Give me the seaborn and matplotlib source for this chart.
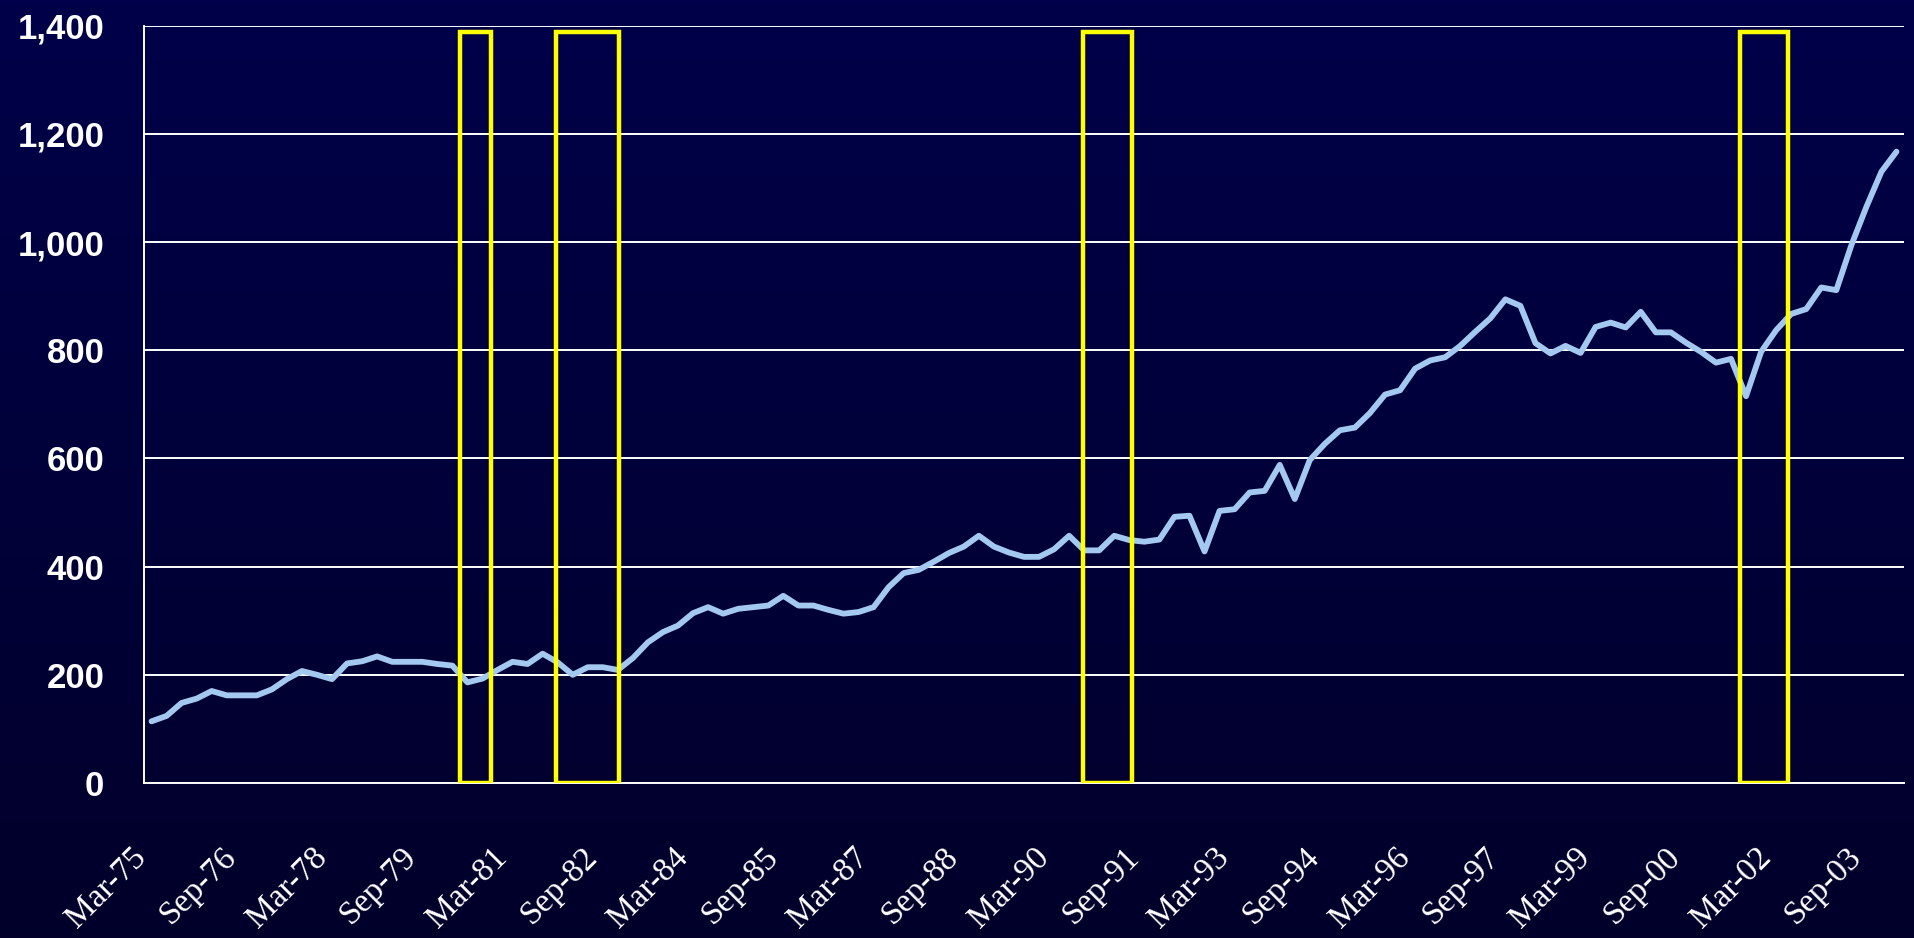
import numpy as np
import pandas as pd
import matplotlib
matplotlib.use("Agg")
import matplotlib.pyplot as plt
import matplotlib.transforms as mtransforms
from matplotlib.patches import Rectangle
from matplotlib.ticker import FuncFormatter
import seaborn as sns

# ---------------- data ----------------
quarters = pd.date_range("1975-03-31", periods=117, freq="QE").strftime("%b-%y").tolist()

values = [
    114, 124, 148, 156, 170, 162, 162, 162, 173, 192,
    207, 200, 192, 221, 225, 234, 224, 224, 224, 220,
    217, 186, 193, 209, 224, 220, 239, 223, 200, 214,
    214, 209, 231, 260, 279, 291, 314, 325, 313, 322,
    325, 328, 346, 328, 328, 320, 313, 316, 325, 362,
    388, 394, 409, 425, 437, 457, 437, 426, 418, 418,
    432, 457, 430, 430, 457, 449, 446, 450, 492, 494,
    428, 503, 506, 537, 540, 588, 525, 597, 627, 652,
    657, 684, 718, 726, 766, 781, 787, 808, 834, 859,
    894, 882, 813, 794, 808, 795, 843, 851, 842, 871,
    833, 833, 814, 797, 777, 784, 715, 797, 837, 867,
    876, 916, 911, 994, 1065, 1130, 1167,
]

tick_labels = ["Mar-75", "Sep-76", "Mar-78", "Sep-79", "Mar-81", "Sep-82", "Mar-84",
               "Sep-85", "Mar-87", "Sep-88", "Mar-90", "Sep-91", "Mar-93", "Sep-94",
               "Mar-96", "Sep-97", "Mar-99", "Sep-00", "Mar-02", "Sep-03"]

# recession periods, in quarter-index units
recession_start = [20.5, 26.9, 61.95, 105.6]
recession_end = [22.6, 31.1, 65.2, 108.8]
recession_top = 1388

y_ticks = [0, 200, 400, 600, 800, 1000, 1200, 1400]

df = pd.DataFrame({"q": np.arange(len(values)), "label": quarters, "value": values})

# ---------------- style ----------------
sns.set_theme(style="white")
plt.rcParams["font.family"] = ["Liberation Sans", "DejaVu Sans"]

W, H = 1915, 938
fig = plt.figure(figsize=(W / 100, H / 100), dpi=100)

# gradient background
bg = fig.add_axes([0, 0, 1, 1], zorder=-10)
top_c = np.array([0, 0, 74]) / 255
bot_c = np.array([2, 0, 42]) / 255
t = np.linspace(0, 1, 256)[:, None]
grad = top_c[None, :] * (1 - t) + bot_c[None, :] * t
img = np.repeat(grad[:, None, :], 4, axis=1)
bg.imshow(img, aspect="auto", extent=[0, 1, 0, 1], origin="upper")
bg.set_axis_off()

left, right = 144 / W, 1904 / W
bottom, top = 1 - 783 / H, 1 - 25.6 / H
ax = fig.add_axes([left, bottom, right - left, top - bottom])
ax.set_facecolor("none")

sns.lineplot(data=df, x="q", y="value", ax=ax, color="#A3C9F0", linewidth=4.2,
             zorder=3, legend=False)

for s, e in zip(recession_start, recession_end):
    ax.add_patch(Rectangle((s, 0), e - s, recession_top, fill=False,
                           edgecolor="#FFFF00", linewidth=3.2, zorder=4,
                           joinstyle="miter"))

n = len(values)
ax.set_xlim(-0.5, n - 0.5)
ax.set_ylim(0, 1400)

# y axis
ax.set_yticks(y_ticks)
ax.yaxis.set_major_formatter(FuncFormatter(lambda v, p: f"{int(v):,}"))
ax.grid(axis="y", color="white", linewidth=1.4, zorder=1)
ax.grid(axis="x", visible=False)
ax.set_axisbelow(True)
ax.tick_params(axis="y", which="major", direction="out", length=8.6, width=1.2,
               color="white", labelcolor="white", labelsize=25, pad=20)
for lbl in ax.get_yticklabels():
    lbl.set_fontweight("bold")

# x axis: minor ticks at category boundaries, labels every 6 quarters
ax.set_xticks(np.arange(-0.5, n, 1.0), minor=True)
label_pos = [quarters.index(l) for l in tick_labels]
ax.set_xticks(label_pos)
ax.set_xticklabels(tick_labels)
ax.tick_params(axis="x", which="minor", direction="out", length=8, width=1.2,
               color="white")
ax.tick_params(axis="x", which="major", length=0, pad=50, labelcolor="white",
               labelsize=24)
shift = mtransforms.ScaledTranslation(-10 / 100, 0, fig.dpi_scale_trans)
for lbl in ax.get_xticklabels():
    lbl.set_family(["Liberation Serif", "DejaVu Serif"])
    lbl.set_rotation(45)
    lbl.set_ha("right")
    lbl.set_va("center")
    lbl.set_rotation_mode("anchor")
    lbl.set_transform(lbl.get_transform() + shift)

ax.set_xlabel("")
ax.set_ylabel("")
for sp in ["top", "right"]:
    ax.spines[sp].set_visible(False)
for sp in ["left", "bottom"]:
    ax.spines[sp].set_color("white")
    ax.spines[sp].set_linewidth(1.4)
    ax.spines[sp].set_zorder(2)

fig.savefig("out.png", dpi=100)
